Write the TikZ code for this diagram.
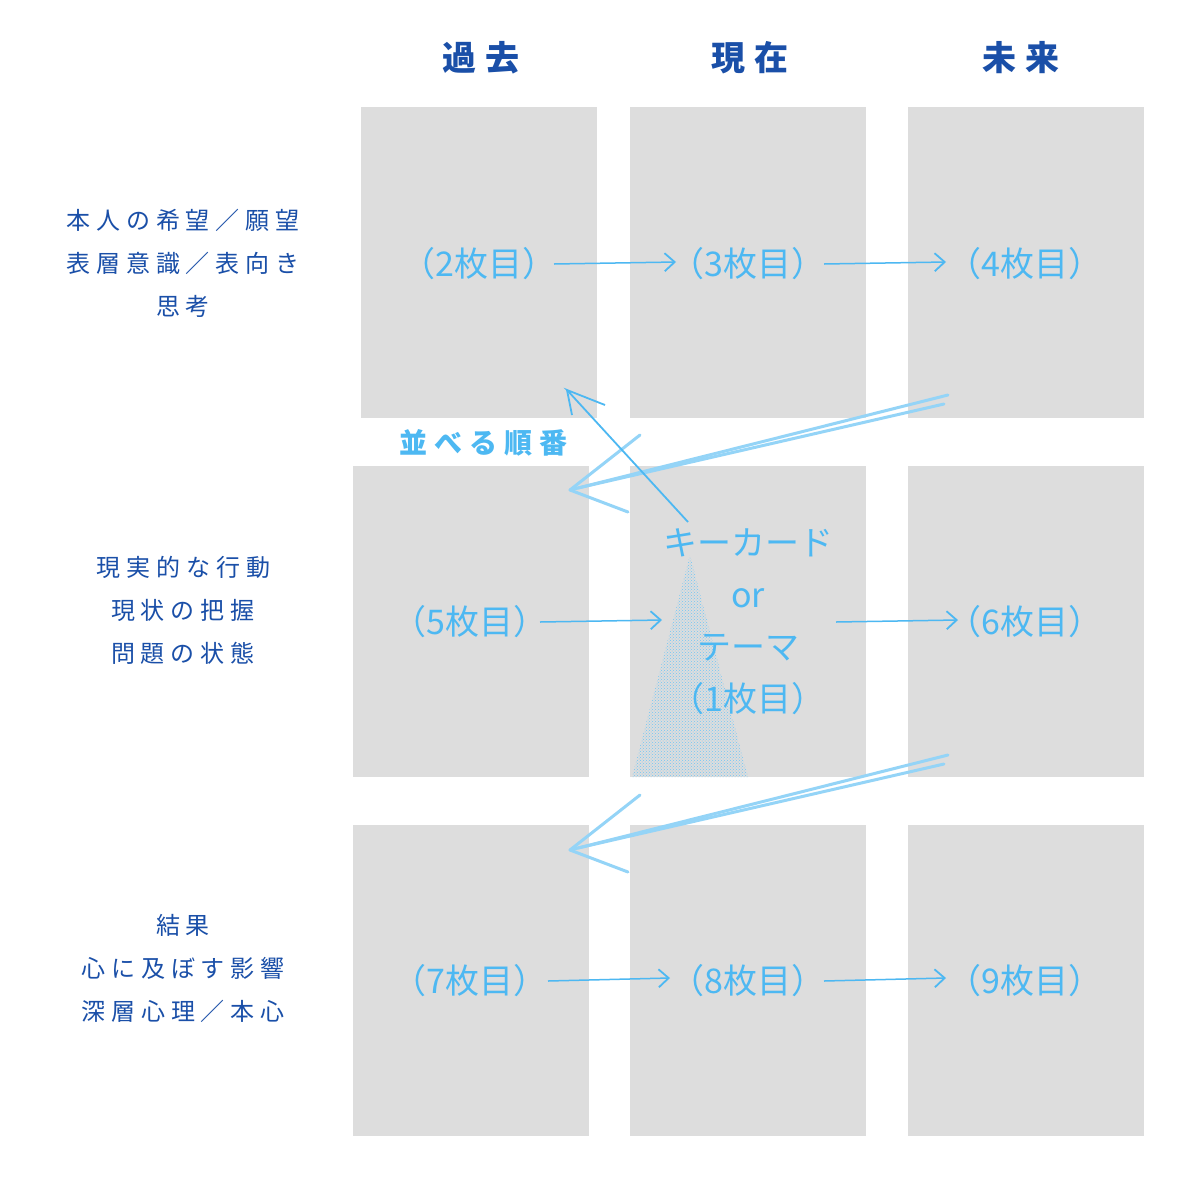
\documentclass[tikz,border=0pt]{standalone}
\usepackage{fontspec}
\newfontfamily\jp{Noto Sans CJK JP}
\newfontfamily\jpsp[LetterSpace=25]{Noto Sans CJK JP}
\usetikzlibrary{patterns,arrows.meta}
\definecolor{dk}{HTML}{1A4FA8}
\definecolor{lb}{HTML}{4DB8F2}
\definecolor{gr}{HTML}{DDDDDD}
\tikzset{card/.style={fill=gr,draw=none},
 ct/.style={text=lb,font=\jp\fontsize{34}{38}\selectfont},
 hd/.style={text=dk,font=\jpsp\bfseries\fontsize{34}{38}\selectfont},
 lt/.style={text=dk,font=\jpsp\fontsize{24}{43}\selectfont,align=center},
 ar/.style={draw=lb,line width=1.5pt,->,>={Straight Barb[length=10pt,width=18pt,line width=1.8pt]}},
 big/.style={draw=lb!60,line width=3pt,line cap=round}}
\begin{document}
\begin{tikzpicture}[x=1pt,y=-1pt]
\useasboundingbox (0,0) rectangle (1200,1200);
\fill[white] (0,0) rectangle (1200,1200);
\fill[card] (361,107) rectangle (597,418);
\fill[card] (630,107) rectangle (866,418);
\fill[card] (908,107) rectangle (1144,418);
\fill[card] (353,466) rectangle (589,777);
\fill[card] (630,466) rectangle (866,777);
\fill[card] (908,466) rectangle (1144,777);
\fill[card] (353,825) rectangle (589,1136);
\fill[card] (630,825) rectangle (866,1136);
\fill[card] (908,825) rectangle (1144,1136);
\fill[pattern=crosshatch dots,pattern color=lb!80] (690,555) -- (748,777) -- (632,777) -- cycle;
\node[hd] (h1) at (481,58) {過去};
\node[hd] (h2) at (750,58) {現在};
\node[hd] (h3) at (1021,58) {未来};
\node[lt] (l1) at (183,263) {本人の希望／願望\\表層意識／表向き\\思考};
\node[lt] (l2) at (183,610) {現実的な行動\\現状の把握\\問題の状態};
\node[lt] (l3) at (183,968) {結果\\心に及ぼす影響\\深層心理／本心};
\node[ct] (c2) at (479,264) {（2枚目）};
\node[ct] (c3) at (748,264) {（3枚目）};
\node[ct] (c4) at (1025,264) {（4枚目）};
\node[ct] (c5) at (470,622) {（5枚目）};
\node[ct,align=center,font=\jp\fontsize{34}{52}\selectfont] (c1) at (748,622) {キーカード\\or\\テーマ\\（1枚目）};
\node[ct] (c6) at (1025,622) {（6枚目）};
\node[ct] (c7) at (470,981) {（7枚目）};
\node[ct] (c8) at (748,981) {（8枚目）};
\node[ct] (c9) at (1025,981) {（9枚目）};
\node[text=lb,font=\jpsp\bfseries\fontsize{28}{30}\selectfont] (lab) at (483,443) {並べる順番};
\draw[ar] (554,264) -- (676,262);
\draw[ar] (824,264) -- (946,262);
\draw[ar] (540,622) -- (662,620);
\draw[ar] (836,622) -- (958,620);
\draw[ar] (548,981) -- (670,978);
\draw[ar] (824,981) -- (946,978);
\coordinate (a1s) at (948,395); \coordinate (a1e) at (570,490);
\draw[big] (a1s) -- (a1e); \draw[big] (944,404) -- (578,488);
\draw[big] (a1e) -- (640,435); \draw[big] (a1e) -- (628,512);
\coordinate (a2s) at (948,755); \coordinate (a2e) at (570,850);
\draw[big] (a2s) -- (a2e); \draw[big] (944,764) -- (578,848);
\draw[big] (a2e) -- (640,795); \draw[big] (a2e) -- (628,872);
\coordinate (ups) at (688,522); \coordinate (upe) at (567,390);
\draw[lb,line width=1.8pt] (ups) -- (upe) -- (605,405);
\draw[lb,line width=1.8pt] (upe) -- (572,415);
\end{tikzpicture}
\end{document}
